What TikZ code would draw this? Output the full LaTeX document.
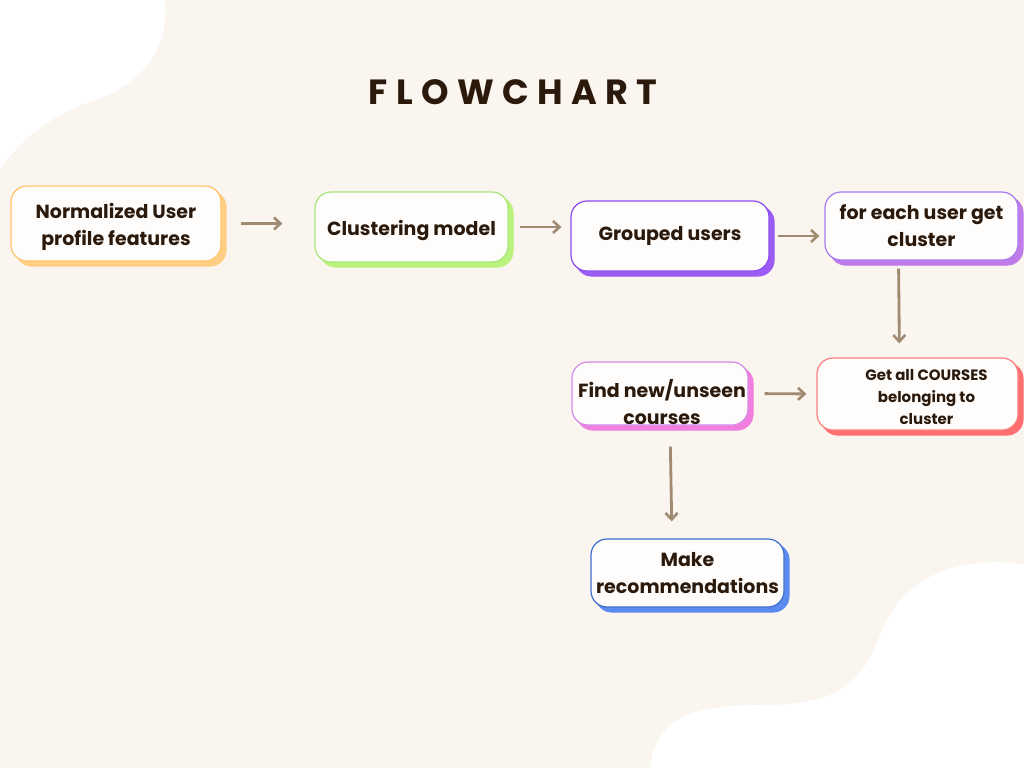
\documentclass[tikz,border=0pt]{standalone}
\usepackage{fontspec}
\setmainfont{Poppins}
\newfontfamily\titlefont[LetterSpace=24]{Poppins}
\usetikzlibrary{shadows,arrows.meta}
\definecolor{bg}{HTML}{FAF5EF}
\definecolor{ink}{HTML}{2B1A0C}
\definecolor{arrc}{HTML}{A08A72}
\definecolor{boxfill}{HTML}{FFFDFB}
\definecolor{orB}{HTML}{FFC36B}\definecolor{orS}{HTML}{FFCF86}
\definecolor{grB}{HTML}{A7E67C}\definecolor{grS}{HTML}{B9F27C}
\definecolor{puB}{HTML}{8A4CF0}\definecolor{puS}{HTML}{9B5CF5}
\definecolor{lvB}{HTML}{A77BF0}\definecolor{lvS}{HTML}{C07BEB}
\definecolor{pkB}{HTML}{D58BE8}\definecolor{pkS}{HTML}{F07FE0}
\definecolor{rdB}{HTML}{FF7F7F}\definecolor{rdS}{HTML}{FF6F6F}
\definecolor{blB}{HTML}{3B6FCB}\definecolor{blS}{HTML}{5B8BEF}
\tikzset{
  flowbox/.style args={#1/#2}{draw=#1, line width=1.2pt, fill=boxfill, rounded corners=16pt,
    inner sep=0pt,
    copy shadow={shadow xshift=5pt, shadow yshift=-5pt, fill=#2, draw=#2, line width=1.2pt}},
  boxtext/.style={align=center, text=ink, font=\fontsize{19}{27}\selectfont\bfseries, inner sep=0pt},
  arr/.style={draw=arrc, line width=2.8pt, -{Straight Barb[length=6.5pt,width=12pt,line width=2.6pt]}}
}
\begin{document}
\begin{tikzpicture}[x=1pt,y=-1pt]
\fill[bg] (0,0) rectangle (1024,768);
\useasboundingbox (0,0) rectangle (1024,768);
\fill[white] (0,0) -- (165,0) .. controls (170,50) and (140,85) .. (95,100) .. controls (50,115) and (20,140) .. (0,170) -- cycle;
\fill[white] (650,768) .. controls (655,720) and (690,705) .. (760,705) .. controls (830,705) and (860,690) .. (880,635) .. controls (900,585) and (940,562) .. (1000,562) -- (1024,564) -- (1024,768) -- cycle;
\node[text=ink, font=\titlefont\fontsize{35}{40}\selectfont\bfseries] (title) at (513,92) {FLOWCHART};
\node[flowbox=orB/orS, minimum width=210pt, minimum height=75pt] (n1) at (116,223.5) {};
\node[flowbox=grB/grS, minimum width=193pt, minimum height=70pt] (n2) at (411.5,227) {};
\node[flowbox=puB/puS, minimum width=198pt, minimum height=70pt] (n3) at (670,236) {};
\node[flowbox=lvB/lvS, minimum width=193pt, minimum height=68pt] (n4) at (921.5,226) {};
\node[flowbox=pkB/pkS, minimum width=176pt, minimum height=63pt] (n5) at (660,393.5) {};
\node[flowbox=rdB/rdS, minimum width=201pt, minimum height=72pt] (n6) at (917.5,394) {};
\node[flowbox=blB/blS, minimum width=193pt, minimum height=68pt] (n7) at (687.5,573) {};
\node[boxtext] (t1) at ([yshift=-3pt]n1.center) {Normalized User\\profile features};
\node[boxtext] (t2) at ([yshift=-4pt]n2.center) {Clustering model};
\node[boxtext] (t3) at (n3.center) {Grouped users};
\node[boxtext] (t4) at (n4.center) {for each user get\\cluster};
\node[boxtext] (t5) at ([yshift=-9pt,xshift=2pt]n5.center) {Find new/unseen\\courses};
\node[boxtext, font=\fontsize{15}{22}\selectfont\bfseries] (t6) at ([xshift=9pt,yshift=-3pt]n6.center) {Get all COURSES\\belonging to\\cluster};
\node[boxtext] (t7) at (n7.center) {Make\\recommendations};
\draw[arr, shorten <=19pt, shorten >=32pt] (n1.east) -- (n1.east -| n2.west);
\draw[arr, shorten <=11pt, shorten >=9pt] (n2.east) -- (n2.east -| n3.west);
\draw[arr, shorten <=8pt, shorten >=5pt] (n3.east) -- (n3.east -| n4.west);
\draw[arr, shorten <=8pt, shorten >=14pt] ([xshift=-23pt]n4.south) -- ([xshift=-22pt]n4.south |- n6.north);
\draw[arr, shorten <=16pt, shorten >=10pt] (n5.east) -- (n6.west);
\draw[arr, shorten <=21pt, shorten >=17pt] ([xshift=10pt]n5.south) -- ([xshift=12pt]n5.south |- n7.north);
\end{tikzpicture}
\end{document}
